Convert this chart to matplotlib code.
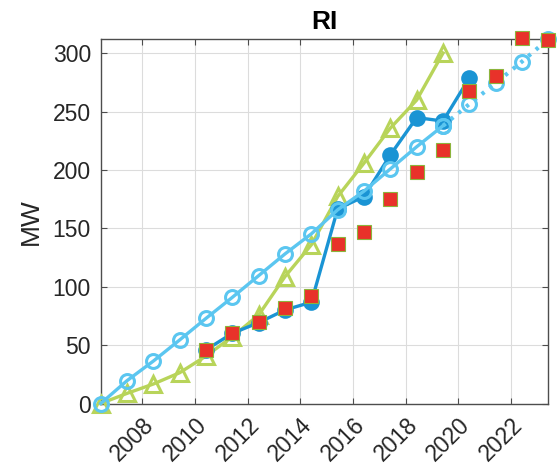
import matplotlib
matplotlib.use("Agg")
import matplotlib.pyplot as plt
import matplotlib.transforms as mtransforms
import numpy as np

plt.rcParams['font.family'] = ['Liberation Sans', 'DejaVu Sans']

# ---- data ----
x_offset = 0.42  # points fall around June of each year
years_proj = list(range(2006, 2020))
proj_vals = [0, 19.6, 36.4, 54.5, 73, 91, 109.6, 128.2, 145.4, 166, 182, 201, 220, 238]
years_proj_ext = list(range(2019, 2024))
proj_ext_vals = [238, 256.6, 274.6, 293, 312.3]

years_actual = list(range(2010, 2021))
actual_vals = [46, 60.2, 69.3, 80.2, 86.8, 166.8, 177.3, 213, 245, 242, 279]

years_green = list(range(2006, 2020))
green_vals = [0, 8.7, 16.7, 26.4, 40.7, 57.3, 75.9, 108.8, 136, 177.4, 206, 236, 260, 300.3]

years_red = list(range(2010, 2024))
red_vals = [45.9, 60, 70, 82, 92, 136.8, 146.8, 175.4, 198.3, 217.4, 268, 280.3, 313, 311.5]

xticks = [2008, 2010, 2012, 2014, 2016, 2018, 2020, 2022]
yticks = [0, 50, 100, 150, 200, 250, 300]

c_light = '#5BC6F0'
c_dark = '#1A94D4'
c_green = '#B8D45A'
c_red = '#E8322A'
c_red_edge = '#8CB43C'

fig = plt.figure(figsize=(5.58, 4.72), dpi=100)
ax = fig.add_axes([0.1805, 0.1451, 0.8022, 0.7722])

def xs(years):
    return np.array(years, dtype=float) + x_offset

ax.plot(xs(years_green), green_vals, color=c_green, lw=2.4, marker='^',
        ms=11.5, mfc='none', mec=c_green, mew=2.2, zorder=3, clip_on=False)
ax.plot(xs(years_actual), actual_vals, color=c_dark, lw=2.4, marker='o',
        ms=10.5, mfc=c_dark, mec=c_dark, mew=1.5, zorder=4, clip_on=False)
ax.plot(xs(years_proj), proj_vals, color=c_light, lw=2.4, marker='o',
        ms=10, mfc='none', mec=c_light, mew=2.2, zorder=5, clip_on=False)
ax.plot(xs(years_proj_ext), proj_ext_vals, color=c_light, lw=3.0, ls=(0, (0.8, 1.6)),
        marker='o', ms=10, mfc='none', mec=c_light, mew=2.2, zorder=5, clip_on=False)
ax.plot(xs(years_red), red_vals, ls='none', marker='s', ms=9.5,
        mfc=c_red, mec=c_red_edge, mew=0.8, zorder=6, clip_on=False)

ax.set_xlim(2006 + x_offset, 2023 + x_offset)
ax.set_ylim(0, 312.3)
ax.set_xticks(xticks)
ax.set_yticks(yticks)
ax.set_xticklabels([str(t) for t in xticks], rotation=45, ha='right', va='top',
                   rotation_mode='anchor')
offset = mtransforms.ScaledTranslation(10 / 100, -4 / 100, fig.dpi_scale_trans)
for lab in ax.get_xticklabels():
    lab.set_transform(lab.get_transform() + offset)

ax.grid(True, color='#dcdcdc', lw=0.8)
ax.set_axisbelow(True)
ax.tick_params(direction='in', length=4, width=0.8, colors='#4d4d4d',
               labelcolor='#262626', labelsize=16.5, top=True, right=True, pad=7)
for s in ax.spines.values():
    s.set_color('#4d4d4d')
    s.set_linewidth(1.0)

ax.set_ylabel('MW', fontsize=19, color='#262626', labelpad=7)
ax.set_title('RI', fontsize=19, fontweight='bold', color='black', pad=7)

fig.savefig('out.png', dpi=100)
